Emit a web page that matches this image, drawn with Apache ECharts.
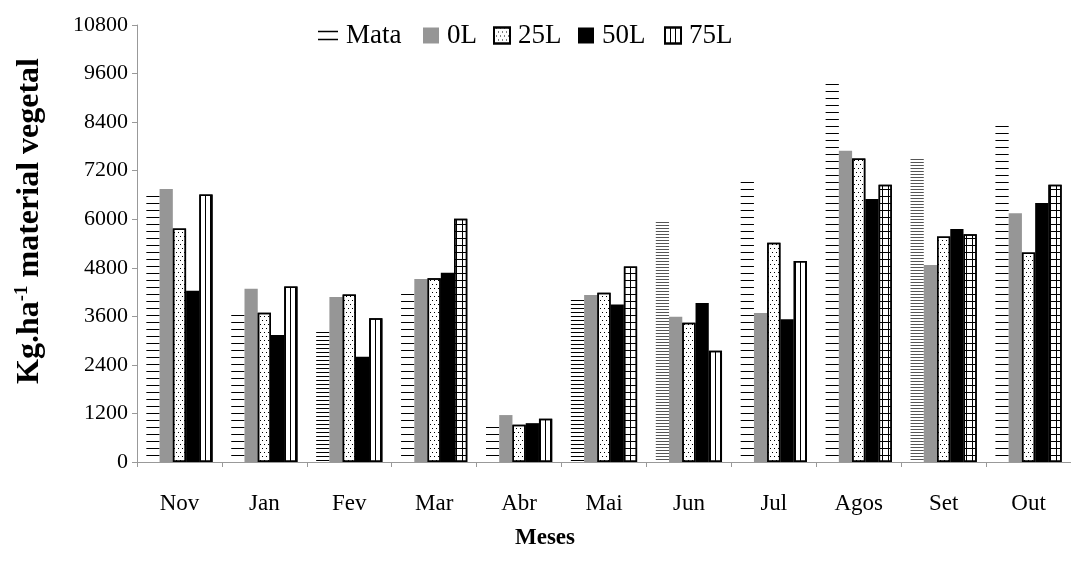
<!DOCTYPE html>
<html>
<head>
<meta charset="utf-8">
<script src="https://cdn.jsdelivr.net/npm/echarts@6/dist/echarts.min.js"></script>
<style>
  html, body { margin: 0; padding: 0; background: #ffffff; }
  #chart { width: 1071px; height: 565px; }
</style>
</head>
<body>
<div id="chart"></div>
<script>
// Monthly plant material (kg/ha) per treatment
const months = ['Nov', 'Jan', 'Fev', 'Mar', 'Abr', 'Mai', 'Jun', 'Jul', 'Agos', 'Set', 'Out'];
const mata = [6620, 3700, 3290, 4210, 940, 4060, 5960, 6970, 9400, 7500, 8410];
const l0   = [6750, 4280, 4080, 4520, 1160, 4130, 3590, 3680, 7690, 4870, 6150];
const l25  = [5770, 3690, 4140, 4540, 920, 4180, 3440, 5420, 7500, 5570, 5180];
const l50  = [4230, 3140, 2600, 4680, 960, 3890, 3930, 3530, 6500, 5760, 6400];
const l75  = [6610, 4340, 3550, 6010, 1070, 4830, 2750, 4970, 6850, 5630, 6850];
const yTicks = [0, 1200, 2400, 3600, 4800, 6000, 7200, 8400, 9600, 10800];
const seriesNames = ['Mata', '0L', '25L', '50L', '75L'];

const FONT = 'Liberation Serif';

// Fill patterns (ECharts decals)
function hLines(gap, color) {
  return { symbol: 'rect', symbolSize: 1, symbolKeepAspect: false, color: color,
           dashArrayX: [[1, 0]], dashArrayY: [1, gap] };
}
const dots = { symbol: 'rect', symbolSize: 1, symbolKeepAspect: false, color: '#000',
               dashArrayX: [[1, 3], [0, 2, 1, 1]], dashArrayY: [1, 3] };
const vLines = { symbol: 'rect', symbolSize: 1, symbolKeepAspect: false, color: '#000',
                 dashArrayX: [[1, 4]], dashArrayY: [1, 0] };
const gridLines = { symbol: 'rect', symbolSize: 1, symbolKeepAspect: false, color: '#000',
                    dashArrayX: [[6, 0], [1, 5]], dashArrayY: [1, 0, 6, 0] };

// Hatching density of the "Mata" bars and the 75L pattern per month
const mataHatch = { Fev: [3, '#000'], Mai: [3, '#000'], Jun: [2, '#555'], Set: [2, '#555'] };
const gridMonths = ['Mar', 'Mai', 'Agos', 'Set', 'Out'];

const common = { type: 'bar', barGap: '0%', barCategoryGap: '22%' };

// One legend block per series so each entry sits where it should
const legendLeft = [313, 418, 488, 573, 659];
const legendText = { fontFamily: FONT, fontSize: 27, color: '#000', padding: [0, 0, 0, 3] };
const legends = seriesNames.map((name, i) => {
  const base = {
    top: 17, left: legendLeft[i], icon: 'rect',
    itemWidth: 16, itemHeight: 16, itemGap: 0,
    textStyle: legendText, selectedMode: false
  };
  if (name === 'Mata') {
    base.itemWidth = 20; base.itemHeight = 9.5;
    base.data = [{ name: name, icon: 'path://M0,0H20V1.5H0Z M0,8H20V9.5H0Z',
                   itemStyle: { color: '#000', decal: 'none', borderWidth: 0 } }];
  } else {
    base.data = [name];
  }
  return base;
});

const option = {
  animation: false,
  backgroundColor: '#ffffff',
  grid: { left: 137, right: -9, top: 25, bottom: 103 },
  legend: legends,
  xAxis: {
    type: 'category',
    data: months,
    axisLine: { lineStyle: { color: '#999', width: 1 } },
    axisTick: { show: true, length: 5, lineStyle: { color: '#999' } },
    axisLabel: { fontFamily: FONT, fontSize: 23, color: '#000', margin: 30 }
  },
  yAxis: {
    type: 'value',
    min: 0, max: yTicks[yTicks.length - 1], interval: yTicks[1] - yTicks[0],
    splitLine: { show: false },
    axisLine: { show: true, lineStyle: { color: '#999', width: 1 } },
    axisTick: { show: true, length: 5, lineStyle: { color: '#999' } },
    axisLabel: { fontFamily: FONT, fontSize: 22, color: '#000', margin: 9,
                 formatter: v => String(v) }
  },
  graphic: [
    {
      type: 'text', x: 30, y: 221, rotation: Math.PI / 2,
      style: {
        text: '{a|Kg.ha}{s|-1}{a| material vegetal}',
        align: 'center', verticalAlign: 'middle',
        rich: {
          a: { fontFamily: FONT, fontSize: 32, fontWeight: 'bold', fill: '#000' },
          s: { fontFamily: FONT, fontSize: 19, fontWeight: 'bold', fill: '#000', verticalAlign: 'top', padding: [0, 0, 15, 0] }
        }
      }
    },
    {
      type: 'text', x: 545, y: 538,
      style: { text: 'Meses', fontFamily: FONT, fontSize: 23, fontWeight: 'bold', fill: '#000',
               align: 'center', verticalAlign: 'middle' }
    }
  ],
  series: [
    Object.assign({}, common, {
      name: 'Mata',
      itemStyle: { color: '#ffffff', decal: hLines(6, '#000') },
      data: mata.map((v, i) => {
        const h = mataHatch[months[i]];
        return h ? { value: v, itemStyle: { decal: hLines(h[0], h[1]) } } : v;
      })
    }),
    Object.assign({}, common, {
      name: '0L',
      itemStyle: { color: '#969696' },
      data: l0
    }),
    Object.assign({}, common, {
      name: '25L',
      itemStyle: { color: '#ffffff', borderColor: '#000', borderWidth: 1.5, decal: dots },
      data: l25
    }),
    Object.assign({}, common, {
      name: '50L',
      itemStyle: { color: '#000000' },
      data: l50
    }),
    Object.assign({}, common, {
      name: '75L',
      itemStyle: { color: '#ffffff', borderColor: '#000', borderWidth: 1.5, decal: vLines },
      data: l75.map((v, i) => gridMonths.indexOf(months[i]) >= 0
        ? { value: v, itemStyle: { decal: gridLines } } : v)
    })
  ]
};

const chart = echarts.init(document.getElementById('chart'), null, { renderer: 'canvas' });
chart.setOption(option);
</script>
</body>
</html>
